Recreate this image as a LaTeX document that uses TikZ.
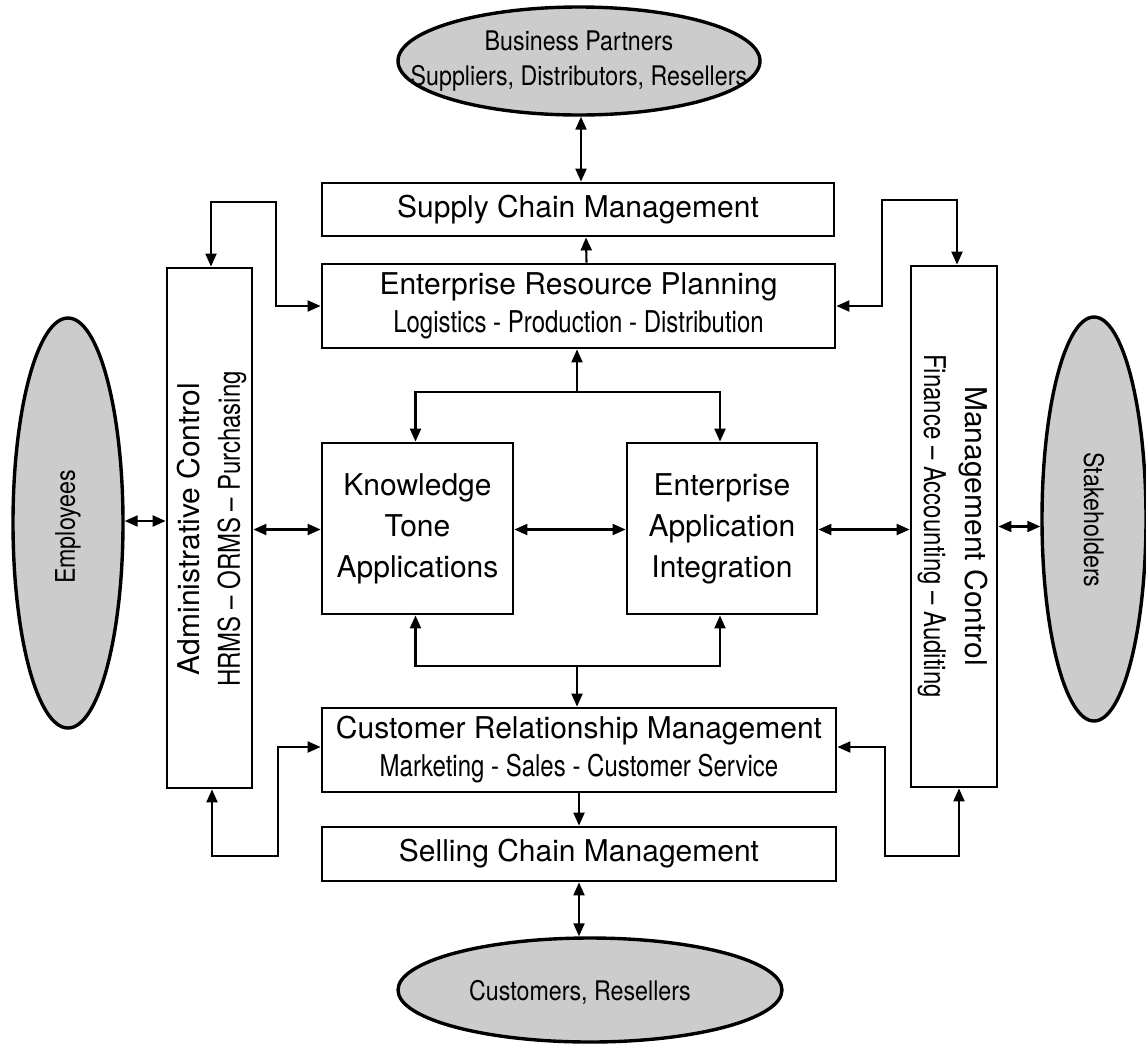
\documentclass[tikz,border=0pt]{standalone}
\usepackage{fontspec}
\setmainfont{TeX Gyre Heros}
\newfontfamily\condf[FakeStretch=0.8]{TeX Gyre Heros}
\newfontfamily\ellf[FakeStretch=0.86]{TeX Gyre Heros}
\usetikzlibrary{shapes.geometric,arrows.meta}
\begin{document}
\begin{tikzpicture}[x=1pt,y=-1pt,
  >={Triangle[length=13pt,width=11pt]},
  box/.style={draw, line width=2.8pt, inner sep=0pt, align=center,
    font=\fontsize{30}{38}\selectfont},
  ell/.style={ellipse, draw, line width=3.4pt, fill=black!20, inner sep=0pt},
  elltext/.style={align=center, font=\ellf\fontsize{27}{35}\selectfont},
  conn/.style={line width=2.1pt}]
\useasboundingbox (0,0) rectangle (1146,1045);

% ellipses
\node[ell, minimum width=362, minimum height=108] (bp) at (579,61) {};
\node[elltext] (bpT) at (579,61) {Business Partners\\Suppliers, Distributors, Resellers};
\node[ell, minimum width=110, minimum height=410] (emp) at (68,523) {};
\node[elltext, rotate=90] (empT) at (68,527) {Employees};
\node[ell, minimum width=104, minimum height=404] (stk) at (1094,519) {};
\node[elltext, rotate=-90] (stkT) at (1094,520) {Stakeholders};
\node[ell, minimum width=384, minimum height=104] (cust) at (590,990) {};
\node[elltext] (custT) at (580,992) {Customers, Resellers};

% boxes
\node[box, minimum width=512, minimum height=53] (scm) at (578,209.5) {Supply Chain Management};
\node[box, minimum width=513, minimum height=84] (erp) at (578.5,306)
  {Enterprise Resource Planning\\{\condf Logistics - Production - Distribution}};
\node[box, minimum width=85, minimum height=520] (adm) at (209.5,528) {};
\node[box, rotate=90, draw=none, fill=none, font=\fontsize{30}{40}\selectfont] (admT) at (212,529)
  {Administrative Control\\{\condf HRMS – ORMS – Purchasing}};
\node[box, minimum width=86, minimum height=521] (mgt) at (954,526.5) {};
\node[box, rotate=-90, draw=none, fill=none, font=\fontsize{30}{41}\selectfont] (mgtT) at (952.5,526)
  {Management Control\\{\condf Finance – Accounting – Auditing}};
\node[box, minimum width=191, minimum height=171, font=\fontsize{30}{41}\selectfont] (kta) at (417.5,528.5)
  {Knowledge\\Tone\\Applications};
\node[box, minimum width=190, minimum height=171, font=\fontsize{30}{41}\selectfont] (eai) at (722,528.5)
  {Enterprise\\Application\\Integration};
\node[box, minimum width=514, minimum height=84] (crm) at (579,750)
  {Customer Relationship Management\\{\condf Marketing - Sales - Customer Service}};
\node[box, minimum width=514, minimum height=54] (sell) at (579,854) {Selling Chain Management};

% vertical spine
\draw[conn,<->] ([xshift=2pt]bp.south) -- ([xshift=2pt]bp.south |- scm.north);
\draw[conn,->] ([xshift=8pt]erp.north) -- ([xshift=8pt]scm.south);
\coordinate (ft) at (577,392);
\draw[conn,->] (ft) -- (ft |- erp.south);
\draw[conn,->] (ft) -| ([xshift=-2pt]kta.north);
\draw[conn,->] (ft) -| ([xshift=-2pt]eai.north);
\coordinate (fb) at (577,666);
\draw[conn,->] (fb) -| ([xshift=-2pt]kta.south);
\draw[conn,->] (fb) -| ([xshift=-2pt]eai.south);
\draw[conn,->] (fb) -- (fb |- crm.north);
\draw[conn,->] (crm.south) -- (sell.north);
\draw[conn,<->] (sell.south) -- (sell.south |- cust.north);

% horizontal spine
\draw[conn,<->] ([yshift=2pt]emp.east) -- ([yshift=2pt]emp.east -| adm.west);
\draw[conn,<->] ([yshift=-1pt]adm.east |- kta.west) -- ([yshift=-1pt]kta.west);
\draw[conn,<->] ([yshift=-1pt]kta.east) -- ([yshift=-1pt]eai.west);
\draw[conn,<->] ([yshift=-1pt]eai.east) -- ([yshift=-1pt]eai.east -| mgt.west);
\draw[conn,<->] (mgt.east) -- (mgt.east -| stk.west);

% loops
\coordinate (tlA) at (211,202);
\coordinate (tlB) at (276,202);
\draw[conn,<->] (tlA |- adm.north) -- (tlA) -- (tlB) |- (erp.west);
\coordinate (trA) at (882,200);
\coordinate (trB) at (957,200);
\draw[conn,<->] (erp.east) -| (trA) -- (trB) -- (trB |- mgt.north);
\coordinate (blA) at (212,856);
\coordinate (blB) at (278,856);
\draw[conn,<->] (blA |- adm.south) -- (blA) -- (blB) |- ([yshift=3pt]crm.west);
\coordinate (brA) at (885,856);
\coordinate (brB) at (959,856);
\draw[conn,<->] ([yshift=3pt]crm.east) -| (brA) -- (brB) -- (brB |- mgt.south);
\end{tikzpicture}
\end{document}
